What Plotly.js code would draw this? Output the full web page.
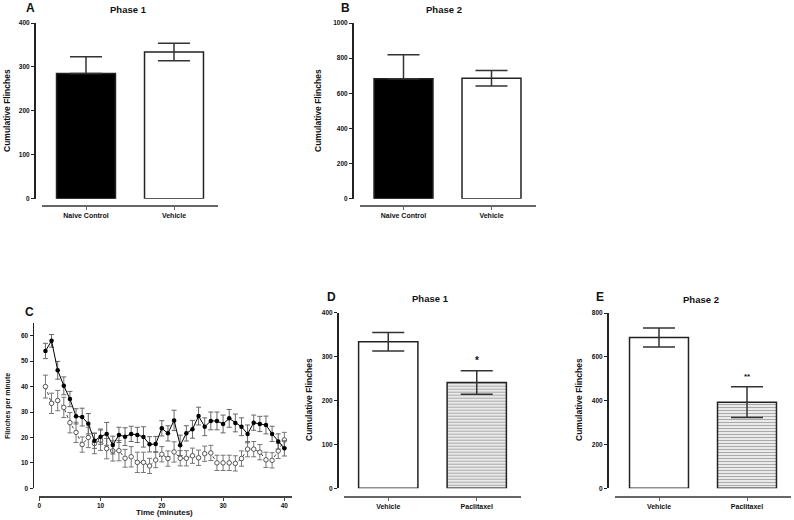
<!DOCTYPE html>
<html><head><meta charset="utf-8">
<script src="https://cdn.plot.ly/plotly-3.0.1.min.js"></script>
<style>html,body{margin:0;padding:0;background:#fff}#chart{width:794px;height:520px}</style>
</head><body><div id="chart"></div>
<script>
// ---- Data ----
const catsAB = ['Naive Control', 'Vehicle'];
const phase1A = [285, 334];
const phase1AErr = [38, 20];
const phase2B = [683, 686];
const phase2BErr = [137, 44];

const catsDE = ['Vehicle', 'Paclitaxel'];
const phase1D = [334, 241];
const phase1DErr = [21, 27];
const phase2E = [688, 393];
const phase2EErr = [43, 70];
const sigD = '*';
const sigE = '**';

const minutes = [1,2,3,4,5,6,7,8,9,10,11,12,13,14,15,16,17,18,19,20,21,22,23,24,25,26,27,28,29,30,31,32,33,34,35,36,37,38,39,40];
const paclitaxelFlinches = [54,58,46.4,40.3,35.1,28.3,28,25.4,18.7,20.3,21.4,17,21,20.3,21.4,21,20.2,17.3,17.4,23.6,21.6,26.7,16.9,21.6,23.2,28.4,24.2,26.5,26.5,25.3,27.5,25.7,24.2,21.4,25.8,25.3,24.9,21.4,18.4,15.7];
const paclitaxelErr = [3,2.5,3.5,3.5,3,3,3.5,4,3,3,4.5,3.5,3,3.5,3,3,4,3,3,3,3,4,4,3,3.5,3.5,3.5,3.5,3.5,3.5,3.5,3.5,3.5,3.5,3,3,3.5,3,3,3];
const vehicleFlinches = [40,33.4,34.5,31.8,25.8,22,17.2,20,17.6,18.9,15.6,14.7,14.8,11.8,12.4,10.2,10.2,8.8,11.1,13.4,11.7,14.3,11.8,11.8,12.8,12,13.6,13.9,10,10,10,9.8,11.7,15.4,15.4,14.2,11.2,11,14.7,19];
const vehicleErr = [4.5,4,4,4,4,4,3,4,4,4,4,4,4,3.5,4,4,4,3,3,3,3,4,3,3,3,3,3,3,3,3,3,3,3,3,3,3,3,3,3,3];

// ---- Helpers ----
const W = 794, H = 520;
const px = v => v / W;
const py = v => 1 - v / H;
const FONT = 'Liberation Sans, Arial, sans-serif';
const tickFontY = {family: FONT, size: 6.5, color: '#111', weight: 'bold'};
const tickFontX = {family: FONT, size: 7, color: '#111', weight: 'bold'};

function barY(top, bottom, xpos, range, dtick) {
  return {domain: [py(bottom), py(top)], anchor: 'free', position: px(xpos), range: range,
    dtick: dtick, tick0: 0, showgrid: false, zeroline: false, showline: true, linecolor: '#222', linewidth: 1.5,
    ticks: 'outside', ticklen: 3, tickwidth: 1, tickcolor: '#222', tickfont: tickFontY, fixedrange: true};
}
function barX(left, right, ypos) {
  return {domain: [px(left), px(right)], anchor: 'free', position: py(ypos), type: 'category', range: [-0.5, 1.5],
    showgrid: false, zeroline: false, showline: true, linecolor: '#666', linewidth: 1.5,
    ticks: 'outside', ticklen: 3, tickwidth: 1, tickcolor: '#666', tickfont: tickFontX, fixedrange: true};
}
// one trace per bar so each can carry its own fill / pattern
function barTrace(xa, ya, cat, val, err, color, striped) {
  const t = {type: 'bar', x: [cat], y: [val], xaxis: xa, yaxis: ya, width: 0.67,
    marker: {color: color, line: {color: '#222', width: 1.5}},
    error_y: {type: 'data', symmetric: false, array: [err], arrayminus: [color === '#000' ? 0 : err],
      visible: true, color: '#333', thickness: 1.5, width: 16},
    hoverinfo: 'skip'};
  if (striped) {
    t.marker.pattern = {shape: '-', fgcolor: '#aaaaaa', bgcolor: '#ffffff', size: 3, solidity: 0.5, fillmode: 'replace'};
  }
  return t;
}

const data = [
  barTrace('x', 'y', catsAB[0], phase1A[0], phase1AErr[0], '#000', false),
  barTrace('x', 'y', catsAB[1], phase1A[1], phase1AErr[1], '#fff', false),
  barTrace('x2', 'y2', catsAB[0], phase2B[0], phase2BErr[0], '#000', false),
  barTrace('x2', 'y2', catsAB[1], phase2B[1], phase2BErr[1], '#fff', false),
  barTrace('x4', 'y4', catsDE[0], phase1D[0], phase1DErr[0], '#fff', false),
  barTrace('x4', 'y4', catsDE[1], phase1D[1], phase1DErr[1], '#fff', true),
  barTrace('x5', 'y5', catsDE[0], phase2E[0], phase2EErr[0], '#fff', false),
  barTrace('x5', 'y5', catsDE[1], phase2E[1], phase2EErr[1], '#fff', true),
  {type: 'scatter', mode: 'lines+markers', x: minutes, y: vehicleFlinches, xaxis: 'x3', yaxis: 'y3',
    line: {color: '#444', width: 1, dash: 'dot'},
    marker: {symbol: 'circle', size: 4.5, color: '#fff', line: {color: '#555', width: 1}},
    error_y: {type: 'data', array: vehicleErr, color: '#777', thickness: 1, width: 2.5}, hoverinfo: 'skip'},
  {type: 'scatter', mode: 'lines+markers', x: minutes, y: paclitaxelFlinches, xaxis: 'x3', yaxis: 'y3',
    line: {color: '#000', width: 1},
    marker: {symbol: 'circle', size: 4.5, color: '#000'},
    error_y: {type: 'data', array: paclitaxelErr, color: '#666', thickness: 1, width: 2.5}, hoverinfo: 'skip'}
];

function txt(x, y, text, size, extra) {
  return Object.assign({xref: 'paper', yref: 'paper', x: px(x), y: py(y), text: text, showarrow: false,
    xanchor: 'center', yanchor: 'middle', font: {family: FONT, size: size, color: '#111'}}, extra || {});
}

const annotations = [
  txt(30, 8, '<b>A</b>', 12), txt(128, 9, '<b>Phase 1</b>', 9.5),
  txt(345, 8, '<b>B</b>', 12), txt(444, 9, '<b>Phase 2</b>', 9.5),
  txt(29, 312, '<b>C</b>', 12),
  txt(331, 297, '<b>D</b>', 12), txt(430, 298, '<b>Phase 1</b>', 9.5),
  txt(600, 297, '<b>E</b>', 12), txt(701, 299, '<b>Phase 2</b>', 9.5),
  txt(7, 111, '<b>Cumulative Flinches</b>', 8.5, {textangle: -90}),
  txt(318, 111, '<b>Cumulative Flinches</b>', 8.5, {textangle: -90}),
  txt(309, 400, '<b>Cumulative Flinches</b>', 8.5, {textangle: -90}),
  txt(579, 400, '<b>Cumulative Flinches</b>', 8.5, {textangle: -90}),
  txt(8, 406, '<b>Flinches per minute</b>', 7, {textangle: -90}),
  txt(164, 512, '<b>Time (minutes)</b>', 8),
  {xref: 'x4', yref: 'y4', x: catsDE[1], y: phase1D[1] + phase1DErr[1], text: '<b>' + sigD + '</b>', showarrow: false,
    yanchor: 'bottom', yshift: 3, font: {family: FONT, size: 10, color: '#111'}},
  {xref: 'x5', yref: 'y5', x: catsDE[1], y: phase2E[1] + phase2EErr[1], text: '<b>' + sigE + '</b>', showarrow: false,
    yanchor: 'bottom', yshift: 4, font: {family: FONT, size: 8, color: '#111'}}
];

const layout = {
  width: W, height: H, margin: {l: 0, r: 0, t: 0, b: 0}, showlegend: false, barmode: 'overlay',
  paper_bgcolor: '#fff', plot_bgcolor: '#fff', font: {family: FONT},
  xaxis: barX(42, 218, 205), yaxis: barY(23, 198.7, 34, [0, 400], 100),
  xaxis2: barX(359.5, 535.5, 205), yaxis2: barY(23, 198.7, 352, [0, 1000], 200),
  xaxis4: barX(344, 521, 496), yaxis4: barY(312.7, 488.3, 337, [0, 400], 100),
  xaxis5: barX(615, 791, 496), yaxis5: barY(313, 488.3, 607, [0, 800], 200),
  xaxis3: {domain: [px(39.3), px(291.7)], anchor: 'free', position: py(496), range: [0, 41.2],
    tickvals: [0, 10, 20, 30, 40], showgrid: false, zeroline: false, showline: true, linecolor: '#444', linewidth: 1.5,
    ticks: 'outside', ticklen: 3, tickcolor: '#444', tickfont: tickFontY, fixedrange: true},
  yaxis3: {domain: [py(488.3), py(323)], anchor: 'free', position: px(32.5), range: [0, 65],
    tickvals: [0, 10, 20, 30, 40, 50, 60], showgrid: false, zeroline: false, showline: true, linecolor: '#222', linewidth: 1.5,
    ticks: 'outside', ticklen: 3, tickcolor: '#222', tickfont: tickFontY, fixedrange: true},
  annotations: annotations
};

Plotly.newPlot('chart', data, layout, {displayModeBar: false, staticPlot: true});
</script></body></html>
